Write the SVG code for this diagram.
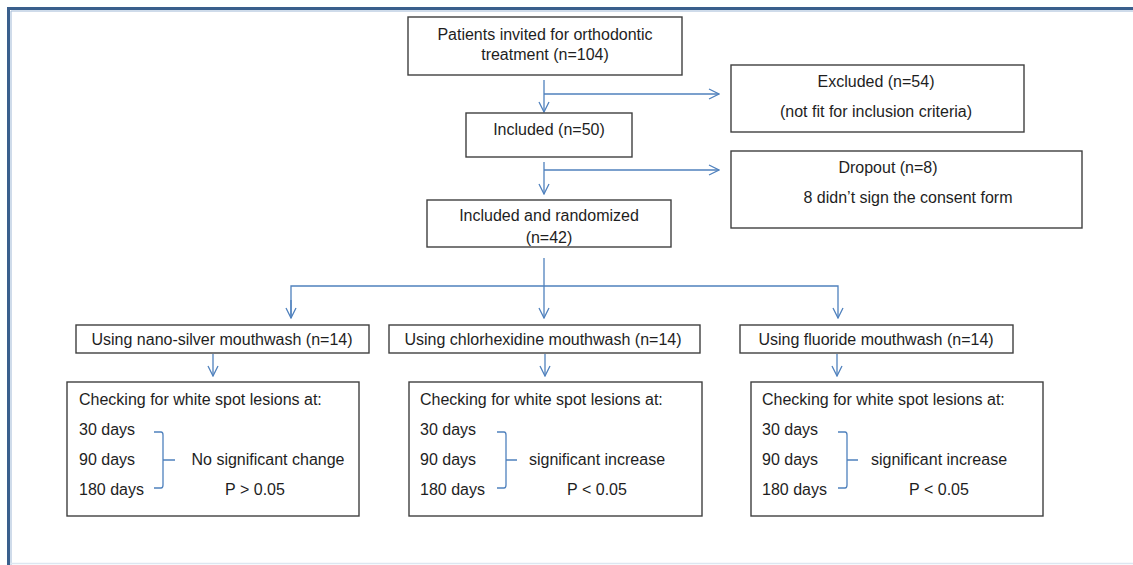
<svg xmlns="http://www.w3.org/2000/svg" width="1133" height="565" viewBox="0 0 1133 565">
<style>
.box{fill:#fff;stroke:#3f3f3f;stroke-width:1.4}
.t{font-family:"Liberation Sans",Arial,sans-serif;font-size:16px;fill:#1e1e1e}
.c{text-anchor:middle}
.ln{fill:none;stroke:#4f81bd;stroke-width:1.3}
</style>
<defs>
<marker id="ah" viewBox="0 0 12 12" refX="11" refY="6" markerWidth="12" markerHeight="12" markerUnits="userSpaceOnUse" orient="auto">
<path d="M1,1 L11,6 L1,11" fill="none" stroke="#4f81bd" stroke-width="1.3"/>
</marker>
</defs>
<rect width="1133" height="565" fill="#fff"/>
<g id="frame">
<path d="M8.5,565 V8.5 H1133" fill="none" stroke="#3a5f8c" stroke-width="3"/>
<path d="M11,565 V11 H1133" fill="none" stroke="#9fb8d6" stroke-width="1"/>
<path d="M10,563.5 H1133" fill="none" stroke="#dde7f1" stroke-width="1.5"/>
</g>
<g id="connectors">
<line class="ln" x1="544" y1="80" x2="544" y2="112" marker-end="url(#ah)"/>
<line class="ln" x1="544" y1="94" x2="719" y2="94" marker-end="url(#ah)"/>
<line class="ln" x1="544" y1="162" x2="544" y2="194" marker-end="url(#ah)"/>
<line class="ln" x1="544" y1="170" x2="719" y2="170" marker-end="url(#ah)"/>
<line class="ln" x1="544" y1="258" x2="544" y2="318" marker-end="url(#ah)"/>
<polyline class="ln" points="291,318 291,286 838,286 838,318" marker-end="url(#ah)"/>
<line class="ln" x1="291" y1="300" x2="291" y2="318" marker-end="url(#ah)"/>
<line class="ln" x1="213" y1="354" x2="213" y2="376" marker-end="url(#ah)"/>
<line class="ln" x1="545" y1="354" x2="545" y2="376" marker-end="url(#ah)"/>
<line class="ln" x1="837" y1="354" x2="837" y2="376" marker-end="url(#ah)"/>
</g>
<g id="invited">
<rect class="box" x="408" y="17" width="274" height="58"/>
<text class="t c" x="545" y="40">Patients invited for orthodontic</text>
<text class="t c" x="545" y="60">treatment (n=104)</text>
</g>
<g id="excluded">
<rect class="box" x="731" y="65" width="293" height="67"/>
<text class="t c" x="876" y="87">Excluded (n=54)</text>
<text class="t c" x="876" y="117">(not fit for inclusion criteria)</text>
</g>
<g id="included">
<rect class="box" x="466" y="113" width="166" height="44"/>
<text class="t c" x="549" y="135">Included (n=50)</text>
</g>
<g id="dropout">
<rect class="box" x="731" y="151" width="351" height="77"/>
<text class="t c" x="888" y="173">Dropout (n=8)</text>
<text class="t c" x="908" y="203">8 didn’t sign the consent form</text>
</g>
<g id="randomized">
<rect class="box" x="427" y="200" width="244" height="47"/>
<text class="t c" x="549" y="221">Included and randomized</text>
<text class="t c" x="549" y="243">(n=42)</text>
</g>
<g id="nanosilver">
<rect class="box" x="76" y="325" width="293" height="28"/>
<text class="t c" x="222" y="345">Using nano-silver mouthwash (n=14)</text>
</g>
<g id="chlorhexidine">
<rect class="box" x="389" y="325" width="311" height="28"/>
<text class="t c" x="543" y="345">Using chlorhexidine mouthwash (n=14)</text>
</g>
<g id="fluoride">
<rect class="box" x="740" y="325" width="273" height="28"/>
<text class="t c" x="876" y="345">Using fluoride mouthwash (n=14)</text>
</g>
<g id="check1">
<rect class="box" x="67" y="382" width="292" height="134"/>
<text class="t" x="79" y="405">Checking for white spot lesions at:</text>
<text class="t" x="79" y="435">30 days</text>
<text class="t" x="79" y="465">90 days</text>
<text class="t" x="79" y="495">180 days</text>
<path class="ln" d="M154,432 H161 Q163,432 163,435 V485 Q163,488 161,488 H154 M163,460 H175"/>
<text class="t c" x="268" y="465">No significant change</text>
<text class="t c" x="255" y="495">P &gt; 0.05</text>
</g>
<g id="check2">
<rect class="box" x="409" y="382" width="293" height="134"/>
<text class="t" x="420" y="405">Checking for white spot lesions at:</text>
<text class="t" x="420" y="435">30 days</text>
<text class="t" x="420" y="465">90 days</text>
<text class="t" x="420" y="495">180 days</text>
<path class="ln" d="M497,432 H504 Q506,432 506,435 V485 Q506,488 504,488 H497 M506,460 H517"/>
<text class="t c" x="597" y="465">significant increase</text>
<text class="t c" x="597" y="495">P &lt; 0.05</text>
</g>
<g id="check3">
<rect class="box" x="751" y="382" width="292" height="134"/>
<text class="t" x="762" y="405">Checking for white spot lesions at:</text>
<text class="t" x="762" y="435">30 days</text>
<text class="t" x="762" y="465">90 days</text>
<text class="t" x="762" y="495">180 days</text>
<path class="ln" d="M838,432 H845 Q847,432 847,435 V485 Q847,488 845,488 H838 M847,460 H858"/>
<text class="t c" x="939" y="465">significant increase</text>
<text class="t c" x="939" y="495">P &lt; 0.05</text>
</g>
</svg>
